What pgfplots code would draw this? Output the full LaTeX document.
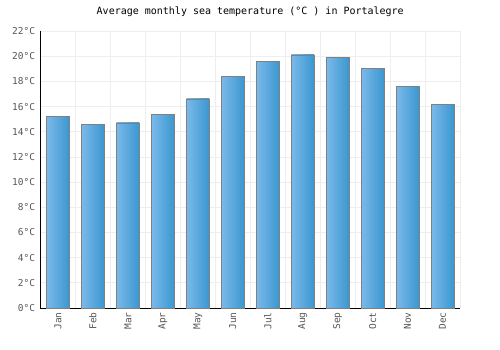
\documentclass[border=0pt]{standalone}
\usepackage{pgfplots}
\pgfplotsset{compat=1.18}
\usepackage{fontspec}
\setmainfont{DejaVu Sans Mono}
\definecolor{barL}{HTML}{7BB9EA}
\definecolor{barR}{HTML}{3A97D0}
\definecolor{gridc}{HTML}{EEEEEE}
\definecolor{tickc}{HTML}{555555}
\begin{document}
\begin{tikzpicture}
\path[use as bounding box] (0,0) rectangle (500bp,350bp);
\begin{axis}[
  at={(40.5bp,42bp)}, anchor=south west,
  scale only axis, width=419.5bp, height=277bp,
  xmin=-0.5, xmax=11.5, ymin=0, ymax=22,
  axis x line*=bottom, axis y line*=left,
  axis line style={black, line width=0.8pt, -},
  xtick={0,...,11},
  xticklabels={Jan,Feb,Mar,Apr,May,Jun,Jul,Aug,Sep,Oct,Nov,Dec},
  minor xtick={-0.5,0.5,...,11.5},
  xminorgrids, ymajorgrids,
  grid style={gridc, line width=0.8pt},
  minor grid style={gridc, line width=0.8pt},
  ytick={0,2,...,22},
  yticklabels={0°C,2°C,4°C,6°C,8°C,10°C,12°C,14°C,16°C,18°C,20°C,22°C},
  major tick length=0pt, minor tick length=0pt,
  tick label style={font=\fontsize{9.5bp}{11bp}\selectfont, text=tickc},
  x tick label style={rotate=90, anchor=east, xshift=-1bp},
  y tick label style={xshift=-2bp},
  title={Average monthly sea temperature (°C ) in Portalegre},
  title style={font=\fontsize{10bp}{12bp}\selectfont, anchor=base, at={(0.5,1)}, yshift=11bp},
  clip=false,
  barst/.style={ybar, bar width=23bp, bar shift=0pt, draw=gray, line width=0.8pt, left color=barL, right color=barR},
]
\addplot[barst] coordinates {(0,15.2)};
\addplot[barst] coordinates {(1,14.6)};
\addplot[barst] coordinates {(2,14.7)};
\addplot[barst] coordinates {(3,15.4)};
\addplot[barst] coordinates {(4,16.6)};
\addplot[barst] coordinates {(5,18.4)};
\addplot[barst] coordinates {(6,19.6)};
\addplot[barst] coordinates {(7,20.1)};
\addplot[barst] coordinates {(8,19.9)};
\addplot[barst] coordinates {(9,19.0)};
\addplot[barst] coordinates {(10,17.6)};
\addplot[barst] coordinates {(11,16.2)};
\end{axis}
\end{tikzpicture}
\end{document}
